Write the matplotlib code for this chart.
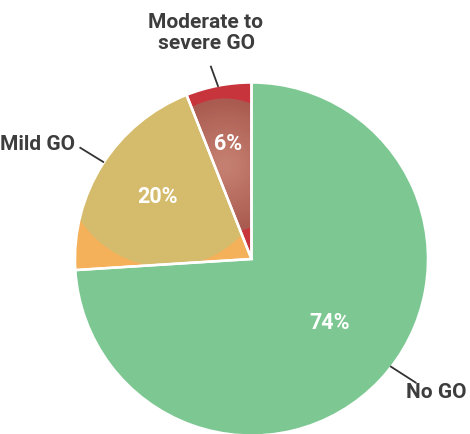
import matplotlib.pyplot as plt
import numpy as np
from matplotlib.patches import Circle, Wedge
from matplotlib.colors import to_rgb

# data
labels = ['No GO', 'Mild GO', 'Moderate to\nsevere GO']
shares = [74, 20, 6]
pct_labels = ['74%', '20%', '6%']

base_colors = ['#7dc892', '#f5b05a', '#c8343c']
mild_inner = '#d5bc6c'
red_inner = ('#c47f70', '#aa5a50')

font = ['Liberation Sans Narrow', 'Roboto', 'DejaVu Sans']

fig = plt.figure(figsize=(4.7, 4.34), dpi=100)
ax = fig.add_axes([0, 0, 1, 1])

cx, cy, R = 251.5, 175, 176.5
wedges, _ = ax.pie(shares, colors=base_colors, startangle=90, counterclock=False,
                   center=(cx, cy), radius=R, frame=True,
                   wedgeprops=dict(edgecolor='none'))
ax.set_xlim(0, 470)
ax.set_ylim(0, 434)
ax.set_aspect('equal')
ax.axis('off')
for w in wedges:
    w.set_zorder(1)

# inner highlight discs (in pie-radius units), clipped to their wedge
mild = Circle((cx - 0.48 * R, cy + 0.54 * R), 0.585 * R, facecolor=mild_inner,
              edgecolor='none', zorder=2)
ax.add_patch(mild)
mild.set_clip_path(wedges[1])

c_out, c_in = np.array(to_rgb(red_inner[1])), np.array(to_rgb(red_inner[0]))
n = 25
for i in range(n):
    t = i / (n - 1)
    disc = Circle((cx - 0.15 * R, cy + 0.53 * R), 0.38 * R * (1 - 0.9 * t),
                  facecolor=c_out * (1 - t) + c_in * t, edgecolor='none',
                  zorder=2 + i * 0.001)
    ax.add_patch(disc)
    disc.set_clip_path(wedges[2])

# white separators on top
for w in wedges:
    ax.add_patch(Wedge(w.center, w.r, w.theta1, w.theta2, facecolor='none',
                       edgecolor='white', linewidth=1.8, zorder=5))

# percentage labels
pct_pos = [(0.44, -0.36), (-0.53, 0.35), (-0.13, 0.65)]
for txt, (px, py) in zip(pct_labels, pct_pos):
    ax.text(cx + px * R, cy + py * R, txt, color='white', fontsize=15.5,
            fontweight='bold', family=font, ha='center', va='center', zorder=10)

# outer labels with leader lines
line_pts = [((0.79, -0.61), (0.93, -0.70)), ((-0.84, 0.55), (-0.97, 0.63)),
            ((-0.19, 0.98), (-0.23, 1.09))]
text_pos = [(467, 41), (75, 290), (206, 401)]
ha = ['right', 'right', 'center']
for lab, (p0, p1), (tx, ty), h in zip(labels, line_pts, text_pos, ha):
    ax.plot([cx + p0[0] * R, cx + p1[0] * R], [cy + p0[1] * R, cy + p1[1] * R],
            color='#333333', linewidth=1.3, zorder=6)
    ax.text(tx, ty, lab, color='#3d3d3d', fontsize=15, fontweight='bold',
            family=font, ha=h, va='center', linespacing=1.1, zorder=10)

fig.savefig('out.png', dpi=100)
